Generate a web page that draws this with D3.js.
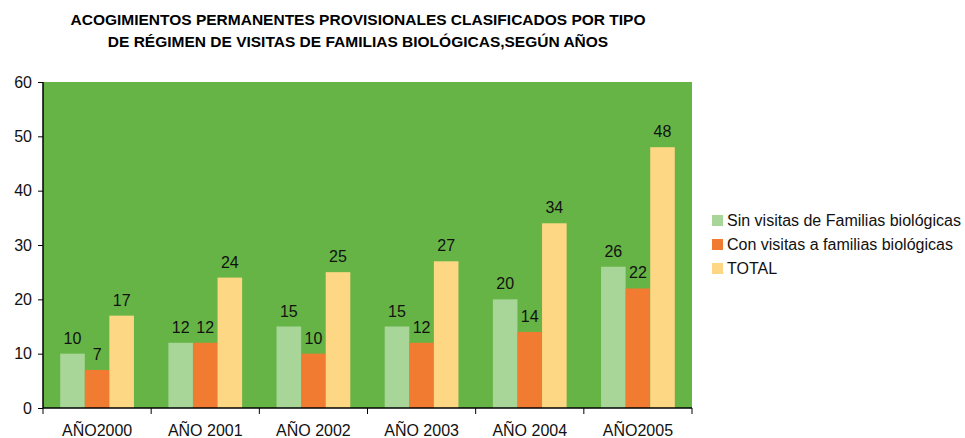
<!DOCTYPE html>
<html>
<head>
<meta charset="utf-8">
<script src="https://cdn.jsdelivr.net/npm/d3@7"></script>
<style>
body { margin: 0; background: #fff; }
svg text { font-family: "Liberation Sans", Arial, sans-serif; }
</style>
</head>
<body>
<svg id="chart" width="965" height="438"></svg>
<script>
var categories = ["AÑO2000", "AÑO 2001", "AÑO 2002", "AÑO 2003", "AÑO 2004", "AÑO2005"];
var seriesNames = ["Sin visitas de Familias biológicas", "Con visitas a familias biológicas", "TOTAL"];
var sinVisitas = [10, 12, 15, 15, 20, 26];
var conVisitas = [7, 12, 10, 12, 14, 22];
var total = [17, 24, 25, 27, 34, 48];
var yTicks = [0, 10, 20, 30, 40, 50, 60];
var colors = ["#a8d598", "#f27b32", "#fdd783"];

var series = [sinVisitas, conVisitas, total];

var svg = d3.select("#chart");
var pLeft = 43, pTop = 82, pRight = 692, pBottom = 408;

var x = d3.scaleBand().domain(categories).range([pLeft, pRight]).paddingInner(0).paddingOuter(0);
var xInner = d3.scaleBand().domain(d3.range(series.length))
	.range([0, x.bandwidth()]).paddingOuter(0.7).paddingInner(0);
var y = d3.scaleLinear().domain([0, 60]).range([pBottom, pTop]);

// fondo verde del area de trazado
svg.append("rect")
	.attr("x", pLeft).attr("y", pTop)
	.attr("width", pRight - pLeft).attr("height", pBottom - pTop)
	.attr("fill", "#66b446");

// titulo
var title = svg.append("text")
	.attr("x", 358).attr("y", 25)
	.attr("text-anchor", "middle")
	.style("font-weight", "bold")
	.style("font-size", "15.5px");
title.append("tspan").attr("x", 358).attr("dy", 0).text("ACOGIMIENTOS PERMANENTES PROVISIONALES CLASIFICADOS POR TIPO");
title.append("tspan").attr("x", 358).attr("dy", 22).text("DE RÉGIMEN DE VISITAS DE FAMILIAS BIOLÓGICAS,SEGÚN AÑOS");

// barras
var groups = svg.selectAll(".grp")
	.data(categories)
	.enter().append("g")
	.attr("class", "grp")
	.attr("transform", function (d) { return "translate(" + x(d) + ",0)"; });

groups.selectAll("rect")
	.data(function (d, i) { return series.map(function (s, k) { return {k: k, v: s[i]}; }); })
	.enter().append("rect")
	.attr("x", function (d) { return xInner(d.k); })
	.attr("y", function (d) { return y(d.v); })
	.attr("width", xInner.bandwidth())
	.attr("height", function (d) { return pBottom - y(d.v); })
	.attr("fill", function (d) { return colors[d.k]; });

groups.selectAll("text.lbl")
	.data(function (d, i) { return series.map(function (s, k) { return {k: k, v: s[i]}; }); })
	.enter().append("text")
	.attr("class", "lbl")
	.attr("x", function (d) { return xInner(d.k) + xInner.bandwidth() / 2; })
	.attr("y", function (d) { return y(d.v) - 10; })
	.attr("text-anchor", "middle")
	.style("font-size", "16px")
	.attr("fill", "#111")
	.text(function (d) { return d.v; });

// eje Y
var yAxis = d3.axisLeft(y).tickValues(yTicks).tickSize(5).tickPadding(6);
var gy = svg.append("g").attr("transform", "translate(" + pLeft + ",0)").call(yAxis);
gy.select(".domain").attr("stroke", "#000").attr("stroke-width", 1.5).attr("d", "M0," + pTop + "V" + pBottom);
gy.selectAll(".tick text").style("font-size", "16px").attr("fill", "#111");

// eje X: marcas entre categorias
var xAxis = d3.axisBottom(x).tickSize(0).tickPadding(17);
var gx = svg.append("g").attr("transform", "translate(0," + pBottom + ")").call(xAxis);
gx.select(".domain").attr("stroke", "#000").attr("stroke-width", 1.5).attr("d", "M" + pLeft + ",0H" + pRight);
gx.selectAll(".tick text").style("font-size", "16px").attr("fill", "#111");
var bounds = categories.map(function (c) { return x(c); }).concat([pRight]);
gx.selectAll("line.sep").data(bounds).enter().append("line")
	.attr("class", "sep")
	.attr("x1", function (d) { return d; }).attr("x2", function (d) { return d; })
	.attr("y1", 0).attr("y2", 6)
	.attr("stroke", "#000");

// leyenda
var legend = svg.append("g").attr("transform", "translate(712,215)");
var li = legend.selectAll("g").data(seriesNames).enter().append("g")
	.attr("transform", function (d, i) { return "translate(0," + (i * 24) + ")"; });
li.append("rect").attr("width", 11).attr("height", 11)
	.attr("fill", function (d, i) { return colors[i]; });
li.append("text").attr("x", 15).attr("y", 11)
	.style("font-size", "16px").attr("fill", "#111")
	.text(function (d) { return d; });
</script>
</body>
</html>
